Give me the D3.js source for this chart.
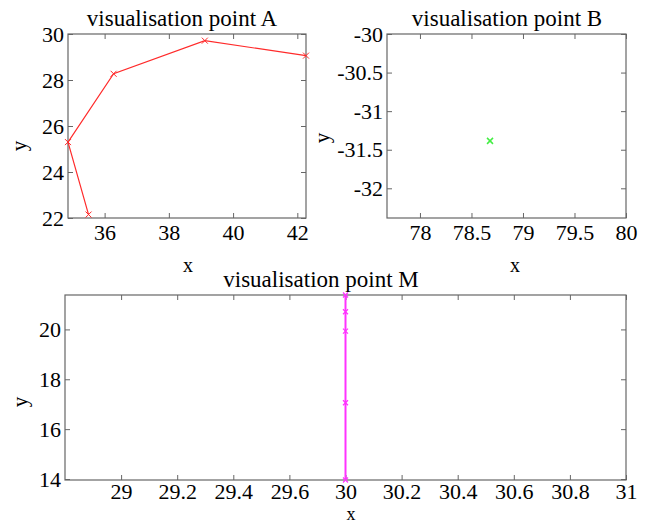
<!DOCTYPE html>
<html>
<head>
<meta charset="utf-8">
<script src="https://cdn.jsdelivr.net/npm/d3@7"></script>
<style>
html,body{margin:0;padding:0;background:#fff;}
svg{display:block;}
svg text{font-family:'Liberation Serif','Times New Roman',serif;}
</style>
</head>
<body>
<svg id="chart" width="646" height="525"></svg>
<script>
// ---- data ----
const aX = [35.50, 34.86, 36.28, 39.12, 42.27];
const aY = [22.15, 25.30, 28.27, 29.71, 29.06];
const bX = [78.68];
const bY = [-31.385];
const mX = [30, 30, 30, 30, 30];
const mY = [13.96, 17.06, 19.93, 20.71, 21.38];

// ---- tick labels / axis limits ----
const aXTicks = [36, 38, 40, 42];
const aYTicks = [22, 24, 26, 28, 30];
const aYLimits = [22, 30];
const bXTicks = [78, 78.5, 79, 79.5, 80];
const bYTicks = [-30, -30.5, -31, -31.5, -32];
const bXLimits = [77.68, 80];
const bYLimits = [-32.385, -30];
const mXTicks = [29, 29.2, 29.4, 29.6, 30, 30.2, 30.4, 30.6, 30.8, 31];
const mXStart = 28.8;
const mYTicks = [14, 16, 18, 20];

const titles = ["visualisation point A", "visualisation point B", "visualisation point M"];

// ---- layout ----
const svg = d3.select("#chart");
const FONT = "'Liberation Serif','Times New Roman',serif";
const axisColor = "#666";

function panel(cfg) {
  const {left, right, top, bottom} = cfg;
  const w = right - left, h = bottom - top;
  const g = svg.append("g").attr("transform", `translate(${left},${top})`);
  const xs = cfg.xScale, ys = cfg.yScale;

  const fmt = d => String(d);
  const styleAxis = sel => {
    sel.attr("font-family", FONT).attr("font-size", 22);
    sel.select(".domain").remove();
    sel.selectAll("line").attr("stroke", axisColor);
    sel.selectAll("text").attr("font-family", FONT).style("font-family", FONT)
      .style("font-size", "22px").attr("fill", "#000");
  };
  g.append("g").attr("transform", `translate(0,${h})`)
    .call(d3.axisBottom(xs).tickValues(cfg.xTicks).tickFormat(fmt).tickSizeInner(-5).tickSizeOuter(0).tickPadding(cfg.xPad || 6))
    .call(styleAxis);
  g.append("g")
    .call(d3.axisTop(xs).tickValues(cfg.xTicks).tickFormat("").tickSizeInner(-5).tickSizeOuter(0))
    .call(styleAxis);
  g.append("g")
    .call(d3.axisLeft(ys).tickValues(cfg.yTicks).tickFormat(fmt).tickSizeInner(-5).tickSizeOuter(0).tickPadding(4))
    .call(styleAxis);
  g.append("g").attr("transform", `translate(${w},0)`)
    .call(d3.axisRight(ys).tickValues(cfg.yTicks).tickFormat("").tickSizeInner(-5).tickSizeOuter(0))
    .call(styleAxis);

  g.append("rect").attr("x", 0).attr("y", 0).attr("width", w).attr("height", h)
    .attr("fill", "none").attr("stroke", axisColor).attr("stroke-width", 1.2);

  const pts = cfg.xs.map((v, i) => [v, cfg.ys[i]]);
  const mk = g.append("g");
  if (cfg.line) {
    mk.append("path").datum(pts)
      .attr("d", d3.line().x(d => xs(d[0])).y(d => ys(d[1])))
      .attr("fill", "none").attr("stroke", cfg.color).attr("stroke-width", cfg.lw);
  }
  const r = cfg.ms;
  mk.selectAll("path.mk").data(pts).join("path").attr("class", "mk")
    .attr("transform", d => `translate(${xs(d[0])},${ys(d[1])})`)
    .attr("d", `M${-r},${-r}L${r},${r}M${-r},${r}L${r},${-r}`)
    .attr("stroke", cfg.color).attr("stroke-width", cfg.mlw).attr("fill", "none");

  svg.append("text").attr("x", cfg.titleX).attr("y", top - 8)
    .attr("text-anchor", "middle").style("font-size", "23px")
    .text(cfg.title);
  svg.append("text").attr("x", cfg.xLabelX).attr("y", cfg.xLabelY)
    .attr("text-anchor", "middle").style("font-size", (cfg.xLabelSize || 20) + "px").text("x");
  svg.append("text").attr("transform", `translate(${cfg.yLabelX},${cfg.yLabelY}) rotate(-90)`)
    .attr("text-anchor", "middle").style("font-size", "21px").text("y");
}

// Panel A
{
  const left = 68, right = 306, top = 34, bottom = 218;
  panel({
    left, right, top, bottom,
    xs: aX, ys: aY,
    xScale: d3.scaleLinear().domain(d3.extent(aX)).range([0, right - left]),
    yScale: d3.scaleLinear().domain(aYLimits).range([bottom - top, 0]),
    xTicks: aXTicks, yTicks: aYTicks,
    line: true, color: "#ff2a2a", lw: 1.2, ms: 3, mlw: 1,
    title: titles[0], titleX: 182, xLabelX: 188, xLabelY: 272, yLabelX: 26, yLabelY: 146
  });
}
// Panel B
{
  const left = 387, right = 626, top = 34, bottom = 218;
  panel({
    left, right, top, bottom,
    xs: bX, ys: bY,
    xScale: d3.scaleLinear().domain(bXLimits).range([0, right - left]),
    yScale: d3.scaleLinear().domain(bYLimits).range([bottom - top, 0]),
    xTicks: bXTicks, yTicks: bYTicks,
    line: false, color: "#44ee44", lw: 1, ms: 3, mlw: 1.5,
    title: titles[1], titleX: 507, xLabelX: 515, xLabelY: 272, yLabelX: 329, yLabelY: 138
  });
}
// Panel M
{
  const left = 65, right = 626, top = 295, bottom = 480;
  const dom = [mXStart, ...mXTicks];
  const w = right - left;
  panel({
    left, right, top, bottom,
    xs: mX, ys: mY,
    xScale: d3.scaleLinear().domain(dom).range(dom.map((d, i) => i * w / (dom.length - 1))),
    yScale: d3.scaleLinear().domain(d3.extent(mY)).range([bottom - top, 0]),
    xTicks: mXTicks, yTicks: mYTicks, xPad: 3.5,
    line: true, color: "#ff33ff", lw: 2, ms: 2.5, mlw: 1.2,
    title: titles[2], titleX: 321, xLabelX: 351, xLabelY: 520, xLabelSize: 18, yLabelX: 27, yLabelY: 402
  });
}
</script>
</body>
</html>
